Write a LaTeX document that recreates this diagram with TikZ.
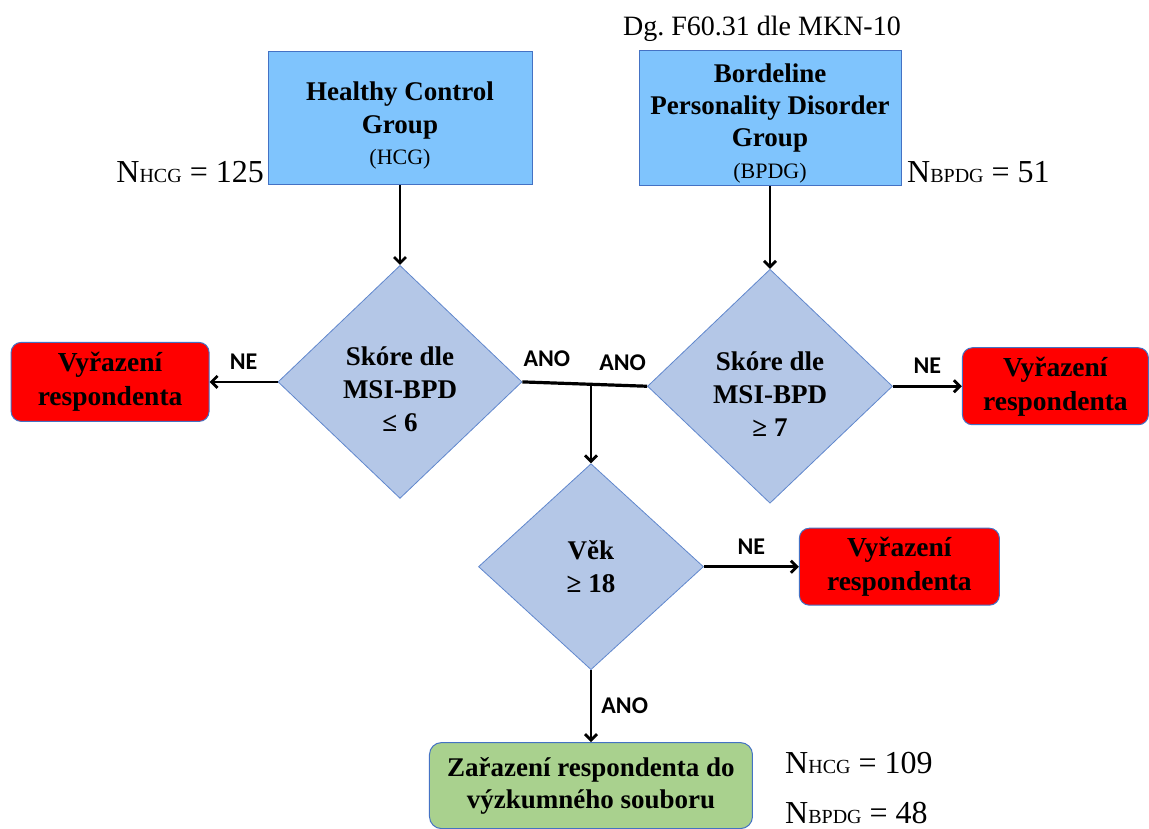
\documentclass[tikz,border=0pt]{standalone}
\usepackage{fontspec}
\setmainfont{Liberation Serif}
\newfontfamily\labelfont{Carlito}
\usetikzlibrary{arrows.meta,positioning,shapes.geometric,calc}

\definecolor{groupblue}{RGB}{127,196,253}
\definecolor{testblue}{RGB}{180,199,231}
\definecolor{edgeblue}{RGB}{68,114,196}
\definecolor{outred}{RGB}{255,0,0}
\definecolor{ingreen}{RGB}{169,209,142}

% pushes the first line of a node down
\newcommand{\topgap}[1]{\rule{0pt}{#1}}

\begin{document}
\begin{tikzpicture}[
  x=1pt, y=-1pt,
  group/.style={draw=edgeblue, fill=groupblue, line width=1pt, align=center, minimum width=264pt, minimum height=133pt, inner sep=2pt, font=\fontsize{27}{33}\selectfont\bfseries},
  test/.style={diamond, draw=edgeblue!85, fill=testblue, line width=0.8pt, align=center, inner sep=0pt, font=\fontsize{27}{33}\selectfont\bfseries},
  reject/.style={draw=edgeblue, fill=outred, line width=1pt, rounded corners=10pt, align=center, minimum width=198pt, minimum height=79pt, font=\fontsize{27.5}{34}\selectfont\bfseries},
  accept/.style={draw=edgeblue, fill=ingreen, line width=1pt, rounded corners=12pt, align=center, minimum width=323pt, minimum height=86pt, font=\fontsize{27}{32}\selectfont\bfseries},
  lab/.style={inner sep=1pt, font=\labelfont\bfseries\fontsize{24}{24}\selectfont},
  count/.style={inner sep=0pt, font=\fontsize{32}{32}\selectfont},
  arrow/.style={-{Straight Barb[length=6pt,width=12pt]}, line width=2.8pt}
]
\useasboundingbox (0,0) rectangle (1149,828);

% groups
\node[group] (hcg) at (400,118) {\topgap{33pt}Healthy Control\\Group\\[-2pt]{\mdseries\fontsize{22}{30}\selectfont (HCG)}};
\node[group, minimum width=262pt, right=106pt of hcg] (bpdg) {\topgap{30pt}Bordeline\\[-1pt]Personality Disorder\\[-1pt]Group\\[-1pt]{\mdseries\fontsize{22}{30}\selectfont (BPDG)}};
\node[count, anchor=base] (dg) at (762,35) {\fontsize{28}{28}\selectfont Dg.\ F60.31 dle MKN-10};
\node[count, anchor=base east] (nhcg) at (264,182) {N{\fontsize{20}{20}\selectfont HCG} = 125};
\node[count, anchor=base west] (nbpdg) at (907,182) {N{\fontsize{20}{20}\selectfont BPDG} = 51};

% tests
\node[test, minimum width=244pt, minimum height=233pt, below=80pt of hcg] (skoreA) {\topgap{34pt}Skóre dle\\MSI-BPD\\≤ 6};
\node[test, minimum width=245pt, minimum height=234pt, below=83pt of bpdg] (skoreB) {\topgap{35pt}Skóre dle\\MSI-BPD\\≥ 7};
\coordinate (join) at ($(skoreA.east)!0.55!(skoreB.west)$);
\node[test, minimum width=225pt, minimum height=206pt, below=79pt of join] (vek) {Věk\\≥ 18};

% results
\node[reject, left=68pt of skoreA] (outA) {Vyřazení\\respondenta};
\node[reject, minimum width=186pt, minimum height=77pt, right=69pt of skoreB] (outB) {Vyřazení\\respondenta};
\node[reject, minimum width=200pt, minimum height=77pt, right=95pt of vek] (outC) {Vyřazení\\respondenta};
\node[accept, below=72pt of vek] (inc) {Zařazení respondenta do\\výzkumného souboru};
\node[count, anchor=base west] (nres1) at (785,773) {N{\fontsize{20}{20}\selectfont HCG} = 109};
\node[count, anchor=base west] (nres2) at (785,823) {N{\fontsize{20}{20}\selectfont BPDG} = 48};

% connectors
\draw[arrow] (hcg) -- (skoreA);
\draw[arrow] (bpdg) -- (skoreB);
\draw[arrow] (skoreA) -- node[lab, above=10pt] {NE} (outA);
\draw[arrow] (skoreB) -- node[lab, above=10pt] {NE} (outB);
\draw[line width=3.2pt] (skoreA.east) -- (skoreB.west);
\node[lab, anchor=south west] (anoA) at ([yshift=14pt]skoreA.east) {ANO};
\node[lab, anchor=south east] (anoB) at ([yshift=14pt]skoreB.west) {ANO};
\draw[arrow] (join) -- (vek);
\draw[arrow] (vek) -- node[lab, above=10pt] {NE} (outC);
\draw[arrow] (vek) -- node[lab, right=8pt] {ANO} (inc);
\end{tikzpicture}
\end{document}
